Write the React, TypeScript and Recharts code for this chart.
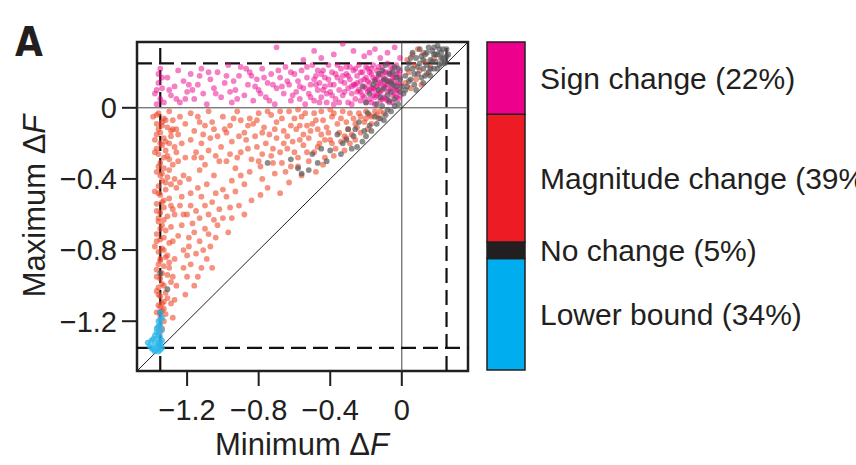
import {
  ScatterChart, Scatter, XAxis, YAxis, ReferenceLine, ReferenceArea,
  BarChart, Bar, LabelList,
} from 'recharts';

const FONT = '"Liberation Sans", Arial, Helvetica, sans-serif';
const INK = '#231F20';

const domainMin = -1.48;
const domainMax = 0.37;
const xTicks = [-1.2, -0.8, -0.4, 0];
const yTicks = [-1.2, -0.8, -0.4, 0];
const dashedAt = [-1.35, 0.25];

// legend bar, bottom to top
const classNames = ['Lower bound (34%)', 'No change (5%)', 'Magnitude change (39%)', 'Sign change (22%)'];
const classKeys = ['lower', 'none', 'magnitude', 'sign'];
const classShares = [34, 5, 39, 22];
const classColors = ['#00AEEF', '#231F20', '#ED1C24', '#EC008C'];

// [minimum dF, maximum dF]
const signPoints: number[][] = [
  [-1.38, 0.08], [-1.36, 0.14], [-1.35, 0.05], [-1.37, 0.02], [-1.34, 0.11], [-1.36, 0.19], [-1.33, 0.03], [-1.35, 0.22],
  [-1.31, 0.17], [-1.29, 0.07], [-1.27, 0.12], [-1.25, 0.21], [-1.24, 0.03], [-1.22, 0.15], [-1.2, 0.09], [-1.18, 0.19],
  [-1.16, 0.05], [-1.14, 0.13], [-1.12, 0.22], [-1.11, 0.08], [-1.09, 0.02], [-1.07, 0.16], [-1.05, 0.11], [-1.03, 0.2],
  [-1.01, 0.06], [-0.99, 0.14], [-0.97, 0.24], [-0.95, 0.03], [-0.93, 0.1], [-0.91, 0.18], [-0.9, 0.23], [-0.88, 0.07],
  [-0.86, 0.13], [-0.85, 0.2], [-0.83, 0.04], [-0.81, 0.16], [-0.8, 0.1], [-0.78, 0.22], [-0.76, 0.06], [-0.75, 0.14],
  [-0.73, 0.19], [-0.71, 0.02], [-0.7, 0.11], [-0.68, 0.17], [-0.66, 0.08], [-0.65, 0.23], [-0.63, 0.13], [-0.62, 0.04],
  [-0.6, 0.19], [-0.59, 0.09], [-0.33, 0.36], [-0.21, 0.29], [-0.15, 0.33], [-0.55, 0.27], [-0.08, 0.31],
  [-0.58, 0.15], [-0.57, 0.05], [-0.56, 0.21], [-0.55, 0.11], [-0.54, 0.02], [-0.53, 0.17], [-0.52, 0.08], [-0.51, 0.13],
  [-0.5, 0.24], [-0.49, 0.04], [-0.48, 0.18], [-0.47, 0.1], [-0.46, 0.14], [-0.45, 0.06], [-0.44, 0.21], [-0.43, 0.12],
  [-0.42, 0.03], [-0.41, 0.16], [-0.4, 0.09], [-0.39, 0.2], [-0.38, 0.13], [-0.37, 0.05], [-0.36, 0.17], [-0.35, 0.1],
  [-0.34, 0.22], [-0.33, 0.07], [-0.32, 0.14], [-0.31, 0.19], [-0.3, 0.03], [-0.3, 0.11], [-0.29, 0.16], [-0.28, 0.08],
  [-0.27, 0.21], [-0.27, 0.13], [-0.26, 0.05], [-0.25, 0.18], [-0.24, 0.1], [-0.24, 0.24], [-0.23, 0.15], [-0.22, 0.07],
  [-0.22, 0.2], [-0.21, 0.12], [-0.2, 0.03], [-0.2, 0.17],
  [-0.19, 0.09], [-0.19, 0.22], [-0.18, 0.14], [-0.18, 0.05], [-0.17, 0.19], [-0.17, 0.11], [-0.16, 0.24], [-0.16, 0.07],
  [-0.15, 0.16], [-0.15, 0.02], [-0.14, 0.12], [-0.14, 0.21], [-0.13, 0.08], [-0.13, 0.18], [-0.12, 0.14], [-0.12, 0.04],
  [-0.11, 0.23], [-0.11, 0.1], [-0.1, 0.17], [-0.1, 0.06], [-0.09, 0.13], [-0.09, 0.2], [-0.08, 0.09], [-0.08, 0.25],
  [-0.07, 0.15], [-0.07, 0.03], [-0.06, 0.19], [-0.06, 0.11], [-0.05, 0.22], [-0.05, 0.07], [-0.04, 0.14], [-0.04, 0.17],
  [-0.03, 0.1], [-0.03, 0.24], [-0.02, 0.05], [-0.02, 0.19], [-0.01, 0.13], [-0.01, 0.21],
  [-0.45, 0.19], [-0.38, 0.02], [-0.33, 0.18], [-0.26, 0.13], [-0.23, 0.09], [-0.18, 0.2], [-0.14, 0.16], [-0.11, 0.15],
  [-0.07, 0.2], [-0.04, 0.08], [-0.15, 0.1], [-0.12, 0.19], [-0.09, 0.05], [-0.06, 0.15], [-0.29, 0.23], [-0.36, 0.24],
  [-0.42, 0.08], [-0.48, 0.13], [-0.62, 0.2], [-0.72, 0.13], [-0.84, 0.18], [-0.96, 0.09], [-1.08, 0.2], [-1.21, 0.05],
  [-0.57, 0.12], [-0.53, 0.23], [-0.51, 0.06], [-0.49, 0.16], [-0.47, 0.21], [-0.46, 0.03], [-0.44, 0.1], [-0.43, 0.17],
  [-0.41, 0.24], [-0.4, 0.13], [-0.39, 0.07], [-0.37, 0.19], [-0.35, 0.03], [-0.34, 0.15], [-0.32, 0.09], [-0.31, 0.23],
  [-0.3, 0.18], [-0.28, 0.12], [-0.28, 0.02], [-0.26, 0.22], [-0.25, 0.09], [-0.25, 0.14], [-0.23, 0.04], [-0.23, 0.2],
  [-0.21, 0.16], [-0.21, 0.06], [-0.2, 0.23], [-0.2, 0.11], [-0.19, 0.15], [-0.18, 0.1], [-0.17, 0.03], [-0.17, 0.22],
  [-0.16, 0.17], [-0.16, 0.11], [-0.15, 0.06], [-0.14, 0.07], [-0.13, 0.23], [-0.13, 0.13], [-0.12, 0.09], [-0.11, 0.05],
  [-0.1, 0.2], [-0.1, 0.12], [-0.09, 0.16], [-0.08, 0.13], [-0.08, 0.04], [-0.07, 0.1], [-0.06, 0.23], [-0.05, 0.17],
  [-0.05, 0.03], [-0.04, 0.11], [-0.03, 0.19], [-0.03, 0.06], [-0.02, 0.14], [-0.02, 0.1], [-0.01, 0.17], [-0.01, 0.07],
  [-1.3, 0.1], [-1.26, 0.05], [-1.19, 0.13], [-1.13, 0.18], [-1.04, 0.08], [-0.98, 0.18], [-0.92, 0.05], [-0.87, 0.22],
  [-0.82, 0.12], [-0.77, 0.17], [-0.74, 0.04], [-0.69, 0.21], [-0.64, 0.15], [-0.61, 0.07], [-1.34, 0.17], [-1.37, 0.1],
  [-0.94, 0.15], [-0.79, 0.08], [-0.67, 0.12], [-1.17, 0.1],
  [-0.45, 0.28], [-0.38, 0.3], [-0.27, 0.32], [-0.12, 0.28], [-0.04, 0.34], [-0.01, 0.28], [-0.18, 0.31], [-0.7, 0.34],
  [-0.49, 0.32],
];

const magnitudePoints: number[][] = [
  // column at the lower limit
  [-1.36, -0.03], [-1.33, -0.06], [-1.37, -0.09], [-1.31, -0.11], [-1.35, -0.14], [-1.29, -0.16], [-1.38, -0.18], [-1.34, -0.21],
  [-1.32, -0.24], [-1.36, -0.26], [-1.3, -0.29], [-1.35, -0.31], [-1.33, -0.34], [-1.37, -0.36], [-1.31, -0.39], [-1.34, -0.41],
  [-1.36, -0.44], [-1.32, -0.46], [-1.35, -0.49], [-1.3, -0.51], [-1.37, -0.54], [-1.33, -0.56], [-1.35, -0.59], [-1.31, -0.61],
  [-1.36, -0.64], [-1.34, -0.66], [-1.32, -0.69], [-1.37, -0.71], [-1.35, -0.74], [-1.3, -0.76], [-1.34, -0.79], [-1.36, -0.81],
  [-1.32, -0.84], [-1.35, -0.86], [-1.33, -0.89], [-1.37, -0.91], [-1.31, -0.94], [-1.35, -0.96], [-1.34, -0.99], [-1.36, -1.01],
  [-1.32, -1.04], [-1.35, -1.06], [-1.33, -1.09], [-1.36, -1.11], [-1.34, -1.14], [-1.35, -1.17], [-1.33, -1.2], [-1.36, -1.23],
  [-1.39, -0.05], [-1.3, -0.02], [-1.28, -0.07], [-1.34, -0.1], [-1.29, -0.13], [-1.37, -0.15], [-1.32, -0.19], [-1.27, -0.22],
  [-1.38, -0.25], [-1.31, -0.27], [-1.28, -0.32], [-1.35, -0.38], [-1.29, -0.43], [-1.38, -0.47], [-1.33, -0.52], [-1.28, -0.57],
  [-1.36, -0.62], [-1.29, -0.67], [-1.33, -0.73], [-1.38, -0.78], [-1.31, -0.83], [-1.36, -0.88], [-1.3, -0.9], [-1.34, -0.93],
  [-1.29, -0.98], [-1.37, -1.03], [-1.31, -1.07], [-1.35, -1.12], [-1.32, -1.16], [-1.34, -1.24],
  [-1.26, -0.12], [-1.25, -0.3], [-1.24, -0.05], [-1.26, -0.45], [-1.23, -0.2], [-1.27, -0.6], [-1.25, -0.72], [-1.27, -0.85],
  [-1.28, -0.95], [-1.26, -1.0], [-1.29, -1.1], [-1.22, -0.38], [-1.21, -0.09], [-1.24, -0.55], [-1.23, -0.66], [-1.22, -0.8],
  [-1.37, -0.04], [-1.34, -0.08], [-1.36, -0.12], [-1.33, -0.17], [-1.35, -0.2], [-1.37, -0.23], [-1.33, -0.28], [-1.36, -0.33],
  [-1.34, -0.37], [-1.32, -0.42], [-1.36, -0.48], [-1.34, -0.53], [-1.37, -0.58], [-1.33, -0.63], [-1.35, -0.68], [-1.37, -0.75],
  [-1.33, -0.8], [-1.35, -0.85], [-1.37, -0.95], [-1.33, -1.0], [-1.36, -1.05], [-1.34, -1.1], [-1.37, -1.15], [-1.33, -1.13],
  [-1.35, -1.26], [-1.32, -0.07], [-1.3, -0.2], [-1.3, -0.35], [-1.29, -0.55], [-1.28, -0.75], [-1.3, -0.87], [-1.28, -0.12],
  [-1.27, -0.4], [-1.26, -0.25], [-1.25, -0.15], [-1.24, -0.42], [-1.23, -0.5], [-1.21, -0.28], [-1.2, -0.6], [-1.19, -0.4],
  [-1.27, -1.08], [-1.28, -1.18],
  // band just under zero
  [-1.18, -0.03], [-1.13, -0.08], [-1.08, -0.02], [-1.05, -0.12], [-1.0, -0.05], [-0.96, -0.1], [-0.92, -0.02], [-0.88, -0.14],
  [-0.85, -0.06], [-0.8, -0.03], [-0.77, -0.11], [-0.73, -0.04], [-0.7, -0.08], [-0.66, -0.13], [-0.63, -0.02], [-0.6, -0.06],
  [-0.57, -0.1], [-0.54, -0.03], [-0.51, -0.13], [-0.48, -0.07], [-0.45, -0.02], [-0.42, -0.11], [-0.39, -0.05], [-0.36, -0.09],
  [-0.33, -0.02], [-0.3, -0.12], [-0.27, -0.06], [-0.24, -0.03], [-0.21, -0.08], [-0.18, -0.04], [-0.15, -0.02], [-0.13, -0.06],
  [-0.1, -0.03], [-0.28, -0.15], [-0.35, -0.14], [-0.45, -0.15], [-0.55, -0.15], [-0.62, -0.1], [-0.68, -0.02], [-0.74, -0.15],
  [-0.83, -0.09], [-0.9, -0.07], [-0.98, -0.14], [-1.1, -0.1], [-1.16, -0.13], [-0.4, -0.01], [-0.25, -0.11], [-0.19, -0.12],
  [-0.5, -0.09], [-0.58, -0.01],
  [-1.14, -0.05], [-1.11, -0.15], [-1.06, -0.08], [-1.03, -0.16], [-0.99, -0.12], [-0.94, -0.06], [-0.91, -0.16], [-0.86, -0.1],
  [-0.81, -0.07], [-0.78, -0.14], [-0.75, -0.02], [-0.71, -0.12], [-0.67, -0.06], [-0.64, -0.16], [-0.59, -0.12], [-0.56, -0.05],
  [-0.53, -0.1], [-0.49, -0.03], [-0.47, -0.12], [-0.44, -0.07], [-0.41, -0.14], [-0.38, -0.03], [-0.34, -0.06], [-0.31, -0.08],
  [-0.29, -0.03], [-0.26, -0.09], [-0.23, -0.05], [-0.2, -0.02], [-0.17, -0.05], [-0.14, -0.04], [-0.12, -0.02],
  // middle of the triangle
  [-1.18, -0.18], [-1.15, -0.25], [-1.12, -0.2], [-1.1, -0.32], [-1.07, -0.17], [-1.04, -0.27], [-1.01, -0.22], [-0.98, -0.3],
  [-0.95, -0.19], [-0.93, -0.34], [-0.9, -0.25], [-0.87, -0.18], [-0.84, -0.29], [-0.81, -0.22], [-0.79, -0.33], [-0.76, -0.2],
  [-0.73, -0.27], [-0.7, -0.17], [-0.67, -0.31], [-0.64, -0.23], [-0.61, -0.19], [-0.58, -0.28], [-0.55, -0.21], [-0.52, -0.17],
  [-0.49, -0.25], [-0.46, -0.2], [-0.43, -0.28], [-0.4, -0.18], [-0.37, -0.23], [-0.34, -0.19], [-0.31, -0.17], [-0.62, -0.33],
  [-0.71, -0.37], [-0.78, -0.4], [-0.85, -0.36], [-0.95, -0.41], [-1.05, -0.38], [-1.13, -0.35], [-0.88, -0.43], [-0.75, -0.45],
  [-1.0, -0.46], [-0.52, -0.3], [-0.68, -0.25], [-0.82, -0.16], [-0.96, -0.26], [-1.16, -0.28],
  [-0.32, -0.16], [-0.39, -0.2], [-0.43, -0.18], [-0.47, -0.22], [-0.53, -0.25], [-0.57, -0.18], [-0.6, -0.25], [-0.66, -0.2],
  [-0.72, -0.23], [-0.78, -0.26], [-0.86, -0.23], [-0.92, -0.28], [-1.02, -0.3], [-1.08, -0.24], [-1.12, -0.28], [-0.65, -0.36],
  [-0.8, -0.3], [-0.9, -0.38], [-1.09, -0.43], [-0.72, -0.31], [-0.58, -0.33],
  // lower tail
  [-1.18, -0.48], [-1.12, -0.5], [-1.06, -0.53], [-0.98, -0.5], [-0.91, -0.55], [-0.84, -0.52], [-0.79, -0.49], [-1.15, -0.58],
  [-1.08, -0.6], [-1.02, -0.57], [-0.95, -0.62], [-0.88, -0.6], [-1.17, -0.65], [-1.1, -0.68], [-1.03, -0.66], [-0.97, -0.7],
  [-1.19, -0.73], [-1.13, -0.75], [-1.07, -0.78], [-1.15, -0.82], [-1.09, -0.85], [-1.18, -0.88], [-1.12, -0.9], [-1.2, -0.95],
  [-1.16, -1.0], [-1.21, -1.05], [-1.04, -0.73], [-1.0, -0.62], [-0.93, -0.47], [-1.22, -0.6], [-1.2, -0.83],
  [-1.14, -0.45], [-1.04, -0.48], [-0.96, -0.56], [-1.1, -0.55], [-1.18, -0.55], [-1.05, -0.63], [-1.13, -0.62], [-1.08, -0.71],
  [-1.16, -0.7], [-1.11, -0.8], [-1.19, -0.78], [-1.14, -0.95], [-1.22, -0.9], [-1.06, -0.9],
  // near the diagonal
  [-0.29, -0.2], [-0.26, -0.18], [-0.23, -0.14], [-0.2, -0.06], [-0.17, -0.09], [-0.32, -0.24], [-0.38, -0.27], [-0.44, -0.32],
  [-0.48, -0.36], [-0.56, -0.38], [-0.63, -0.42], [-0.68, -0.48],
  // both positive
  [0.02, 0.14], [0.04, 0.2], [0.05, 0.11], [0.07, 0.24], [0.08, 0.16], [0.1, 0.21], [0.11, 0.13], [0.13, 0.26],
  [0.14, 0.19], [0.16, 0.23], [0.18, 0.28], [0.03, 0.27], [0.06, 0.3], [0.09, 0.33], [0.12, 0.31],
];

const noChangePoints: number[][] = [
  [0.01, 0.08], [0.02, 0.18], [0.03, 0.12], [0.04, 0.25], [0.05, 0.16], [0.06, 0.22], [0.07, 0.13], [0.08, 0.28],
  [0.09, 0.19], [0.1, 0.25], [0.11, 0.17], [0.12, 0.22], [0.13, 0.3], [0.14, 0.24], [0.15, 0.2], [0.16, 0.27],
  [0.17, 0.32], [0.18, 0.22], [0.19, 0.26], [0.2, 0.3], [0.21, 0.24], [0.22, 0.28], [0.23, 0.33], [0.24, 0.26],
  [0.25, 0.29], [0.15, 0.34], [0.2, 0.35], [0.06, 0.31], [0.1, 0.33], [0.18, 0.3], [0.22, 0.25], [0.12, 0.27],
  [0.08, 0.1], [0.12, 0.14], [0.16, 0.18], [0.2, 0.22], [0.24, 0.25],
  [0.02, 0.1], [0.04, 0.15], [0.05, 0.28], [0.07, 0.19], [0.09, 0.23], [0.11, 0.29], [0.13, 0.18], [0.14, 0.31],
  [0.16, 0.22], [0.17, 0.26], [0.19, 0.3], [0.21, 0.33], [0.22, 0.31], [0.23, 0.28], [0.25, 0.33], [0.26, 0.3],
  [0.18, 0.34], [0.03, 0.22],
  [-0.02, 0.02], [-0.04, 0.05], [-0.06, 0.09], [-0.01, 0.16], [-0.03, 0.12], [-0.08, 0.15], [-0.05, 0.2], [-0.1, 0.11],
  [-0.12, 0.06], [-0.14, 0.02], [-0.09, 0.24], [-0.13, 0.19], [-0.16, 0.13], [-0.18, 0.08], [-0.07, 0.04], [-0.02, 0.22],
  [-0.11, 0.01], [-0.2, 0.03], [-0.22, 0.12], [-0.05, 0.13],
  [0.0, 0.12], [-0.01, 0.09], [-0.03, 0.17], [-0.04, 0.23], [-0.06, 0.14], [-0.07, 0.19], [-0.08, 0.07], [-0.1, 0.16],
  [-0.11, 0.21], [-0.13, 0.1], [-0.15, 0.15],
  [-0.06, -0.02], [-0.09, -0.04], [-0.12, -0.06], [-0.15, -0.05], [-0.18, -0.1], [-0.21, -0.13], [-0.24, -0.08], [-0.27, -0.16],
  [-0.3, -0.12], [-0.22, -0.19], [-0.33, -0.2], [-0.36, -0.15], [-0.28, -0.23], [-0.25, -0.22],
  [-0.04, 0.01], [-0.08, -0.01], [-0.1, -0.07], [-0.14, -0.09], [-0.17, -0.13], [-0.2, -0.16], [-0.19, -0.03], [-0.26, -0.12],
  [-0.31, -0.18], [-0.34, -0.26], [-0.4, -0.24], [-0.42, -0.3], [-0.52, -0.35],
  [-0.45, -0.23], [-0.47, -0.31], [-0.58, -0.34], [-0.56, -0.37], [-0.75, -0.31], [-0.62, -0.29], [-0.5, -0.26],
  [-1.31, -1.02], [-1.35, -0.93], [-1.35, -1.15],
];

const lowerBoundPoints: number[][] = [
  [-1.35, -1.15], [-1.34, -1.18], [-1.36, -1.2], [-1.35, -1.22], [-1.37, -1.24], [-1.34, -1.25], [-1.36, -1.27],
  [-1.38, -1.28], [-1.35, -1.29], [-1.37, -1.3], [-1.4, -1.31], [-1.42, -1.32], [-1.36, -1.32], [-1.38, -1.33],
  [-1.35, -1.34], [-1.41, -1.34], [-1.37, -1.35], [-1.34, -1.31], [-1.39, -1.36], [-1.35, -1.36], [-1.36, -1.37],
  [-1.35, -1.19], [-1.37, -1.26], [-1.39, -1.3], [-1.36, -1.34], [-1.4, -1.35], [-1.34, -1.35], [-1.38, -1.37],
  [-1.36, -1.23], [-1.35, -1.32],
];

const toRows = (pts: number[][]) => pts.map(([x, y]) => ({ x, y }));

const fmtTick = (v: number) => (v === 0 ? '0' : '\u2212' + Math.abs(v).toFixed(1));

const dot = (fill: string, opacity: number) => (props: any) => (
  <circle cx={props.cx} cy={props.cy} r={2.9} fill={fill} fillOpacity={opacity} />
);

const legendRow = [
  Object.fromEntries([['name', 'share'], ...classKeys.map((k, i) => [k, classShares[i]])]),
];

export default function App() {
  const tickStyle = { fill: INK, fontSize: 29, fontFamily: FONT };
  return (
    <div style={{ position: 'absolute', left: 0, top: 0, width: 856, height: 465, background: '#fff', overflow: 'hidden' }}>
      <div style={{ position: 'absolute', left: 0, top: 0 }}>
        <ScatterChart width={480} height={465} margin={{ top: 42, right: 12, bottom: 34, left: 77 }}>
          <XAxis
            type="number"
            dataKey="x"
            domain={[domainMin, domainMax]}
            allowDataOverflow
            ticks={xTicks}
            tickFormatter={fmtTick}
            tick={tickStyle}
            tickSize={15}
            tickMargin={13}
            tickLine={{ stroke: INK, strokeWidth: 2 }}
            axisLine={false}
            height={60}
          />
          <YAxis
            type="number"
            dataKey="y"
            domain={[domainMin, domainMax]}
            allowDataOverflow
            ticks={yTicks}
            tickFormatter={fmtTick}
            tick={tickStyle}
            tickSize={15}
            tickMargin={5}
            tickLine={{ stroke: INK, strokeWidth: 2 }}
            axisLine={false}
            width={60}
          />
          <ReferenceLine x={0} stroke="#444" strokeWidth={1} />
          <ReferenceLine y={0} stroke="#444" strokeWidth={1} />
          <ReferenceLine
            segment={[{ x: domainMin, y: domainMin }, { x: domainMax, y: domainMax }]}
            stroke={INK}
            strokeWidth={1}
          />
          {dashedAt.map((v) => (
            <ReferenceLine key={'vx' + v} x={v} stroke="#111" strokeWidth={2.2} strokeDasharray="15 7" />
          ))}
          {dashedAt.map((v) => (
            <ReferenceLine key={'hy' + v} y={v} stroke="#111" strokeWidth={2.2} strokeDasharray="15 7" />
          ))}
          <Scatter data={toRows(magnitudePoints)} shape={dot('#EF4A2C', 0.6)} isAnimationActive={false} />
          <Scatter data={toRows(signPoints)} shape={dot('#EC008C', 0.5)} isAnimationActive={false} />
          <Scatter data={toRows(noChangePoints)} shape={dot('#555555', 0.68)} isAnimationActive={false} />
          <Scatter data={toRows(lowerBoundPoints)} shape={dot('#29B6EA', 0.75)} isAnimationActive={false} />
          <ReferenceArea
            x1={domainMin}
            x2={domainMax}
            y1={domainMin}
            y2={domainMax}
            fill="none"
            stroke={INK}
            strokeWidth={2.5}
          />
        </ScatterChart>
      </div>

      <div style={{ position: 'absolute', left: 470, top: 0 }}>
        <BarChart width={386} height={465} data={legendRow} margin={{ top: 42, right: 331, bottom: 95, left: 17 }} barCategoryGap={0}>
          <XAxis dataKey="name" hide />
          <YAxis type="number" domain={[0, 100]} hide />
          {classKeys.map((k, i) => (
            <Bar key={k} dataKey={k} stackId="c" fill={classColors[i]} stroke={INK} strokeWidth={1.5} isAnimationActive={false}>
              <LabelList
                dataKey={k}
                position="right"
                offset={15}
                formatter={() => classNames[i]}
                style={{ fill: INK, fontSize: 30, fontFamily: FONT }}
              />
            </Bar>
          ))}
        </BarChart>
      </div>

      <svg width={480} height={465} style={{ position: 'absolute', left: 0, top: 0, pointerEvents: 'none' }}>
        <text x={15} y={56} fontFamily='"Liberation Sans Narrow", "DejaVu Sans Condensed", Arial, sans-serif' fontWeight="bold" fontSize={40} fill={INK}>
          A
        </text>
        <text x={302} y={455} textAnchor="middle" fontFamily={FONT} fontSize={31} fill={INK}>
          Minimum {'\u0394'}<tspan fontStyle="italic">F</tspan>
        </text>
        <text x={45} y={206} transform="rotate(-90 45 206)" textAnchor="middle" fontFamily={FONT} fontSize={31} fill={INK}>
          Maximum {'\u0394'}<tspan fontStyle="italic">F</tspan>
        </text>
      </svg>
    </div>
  );
}
